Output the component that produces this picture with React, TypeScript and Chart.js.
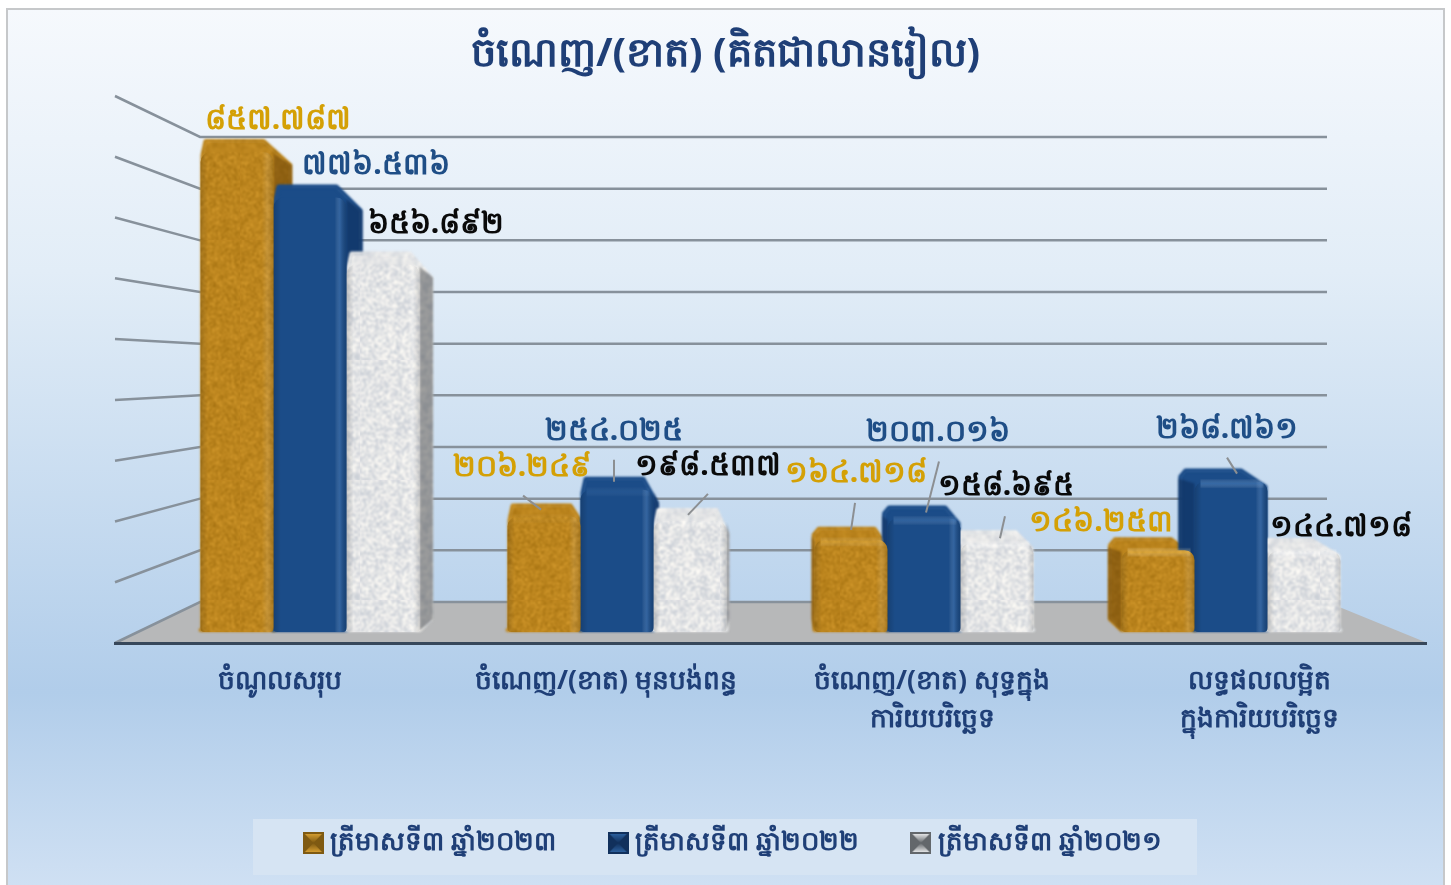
import React, { useEffect, useRef } from "react";
import { Chart, registerables } from "chart.js";

Chart.register(...registerables);

const categories: (string | string[])[] = [
  "ចំណូលសរុប",
  "ចំណេញ/(ខាត) មុនបង់ពន្ធ",
  ["ចំណេញ/(ខាត) សុទ្ធក្នុង", "ការិយបរិច្ឆេទ"],
  ["លទ្ធផលលម្អិត", "ក្នុងការិយបរិច្ឆេទ"],
];
const seriesNames = ["ត្រីមាសទី៣ ឆ្នាំ២០២៣", "ត្រីមាសទី៣ ឆ្នាំ២០២២", "ត្រីមាសទី៣ ឆ្នាំ២០២១"];
const q3y2023 = [857.787, 206.249, 164.718, 146.253];
const q3y2022 = [776.536, 254.025, 203.016, 268.761];
const q3y2021 = [656.892, 198.537, 158.695, 144.718];
const labels2023 = ["៨៥៧.៧៨៧", "២០៦.២៤៩", "១៦៤.៧១៨", "១៤៦.២៥៣"];
const labels2022 = ["៧៧៦.៥៣៦", "២៥៤.០២៥", "២០៣.០១៦", "២៦៨.៧៦១"];
const labels2021 = ["៦៥៦.៨៩២", "១៩៨.៥៣៧", "១៥៨.៦៩៥", "១៤៤.៧១៨"];
const titleText = "ចំណេញ/(ខាត) (គិតជាលានរៀល)";

const FONT = '"Noto Sans","Noto Sans CJK SC","DejaVu Sans",sans-serif';
const NAVY = "#1f3f77";
const valueLabels = [labels2023, labels2022, labels2021];
const labelColors = ["#d4a005", "#1f4e86", "#0a0a0a"];
const labelOffsets = [
  [[41, -32], [-22, -49], [5, -66], [-57, -28]],
  [[66, -32], [-3, -58], [14, -86], [-4, -52]],
  [[53, -40], [18, -54], [9, -57], [37, -24]],
];
const leaders: (number[] | null)[][] = [
  [null, [-21, -21, -3, -7], [4, -37, 0, -10], null],
  [null, [-3, -30, -3, -8], [15, -57, 2, -6], [-4, -24, 6, -8]],
  [null, [18, -27, -2, -6], [8, -27, 3, -5], null],
];
const tickShift = [-30, -11, 8, 28];
const sideShade = ["rgba(70,40,0,0.38)", "rgba(0,15,50,0.3)", "rgba(40,42,45,0.42)"];
const hiliteColors = ["rgba(255,205,90,0.4)", "rgba(110,165,225,0.32)", "rgba(255,255,255,0.4)"];
const swatchTones = [
  ["#7f5a12", "#d39c30"],
  ["#11305c", "#2c5f9c"],
  ["#63676b", "#e2e3e4"],
];

function hash(n: number) {
  const x = Math.sin(n * 127.1) * 43758.5453;
  return x - Math.floor(x);
}

function speckle(base: number[], amp: number, cell: number, soft: string): CanvasPattern | string {
  const c = document.createElement("canvas");
  c.width = c.height = 120;
  const g = c.getContext("2d")!;
  const raw = document.createElement("canvas");
  raw.width = raw.height = 120;
  const r = raw.getContext("2d")!;
  for (let y = 0; y < 120; y += cell) {
    for (let x = 0; x < 120; x += cell) {
      const d = (hash(x * 97 + y * 13 + 1) - 0.5) * amp;
      r.fillStyle = `rgb(${base[0] + d},${base[1] + d * 0.85},${base[2] + d * 0.6})`;
      r.fillRect(x, y, cell, cell);
    }
  }
  g.fillStyle = `rgb(${base[0]},${base[1]},${base[2]})`;
  g.fillRect(0, 0, 120, 120);
  g.filter = soft;
  g.drawImage(raw, 0, 0);
  return g.createPattern(c, "repeat") || "#888";
}

// A small bevelled tile for the legend: dark rim, bright centre.
function swatchTile(edge: string, mid: string) {
  const c = document.createElement("canvas");
  c.width = 21;
  c.height = 22;
  const g = c.getContext("2d")!;
  g.fillStyle = edge;
  g.fillRect(0, 0, 21, 22);
  const v = g.createLinearGradient(0, 2, 0, 20);
  v.addColorStop(0, mid);
  v.addColorStop(0.5, edge);
  v.addColorStop(1, mid);
  g.fillStyle = v;
  g.beginPath();
  g.moveTo(2, 2);
  g.lineTo(19, 2);
  g.lineTo(10.5, 11);
  g.lineTo(19, 20);
  g.lineTo(2, 20);
  g.lineTo(10.5, 11);
  g.closePath();
  g.fill();
  return c;
}

function depth(bar: any) {
  return (770 - bar.x) * 0.035;
}

const scenePlugin = {
  id: "scene",
  beforeDraw(chart: any) {
    const { ctx, width, height } = chart;
    const sy = chart.scales.y;
    ctx.save();
    ctx.fillStyle = "#ffffff";
    ctx.fillRect(0, 0, width, height);
    const bg = ctx.createLinearGradient(0, 8, 0, height);
    bg.addColorStop(0, "#f6f9fd");
    bg.addColorStop(0.3, "#e2edf7");
    bg.addColorStop(0.78, "#b1cdea");
    bg.addColorStop(1, "#cfe0f3");
    ctx.fillStyle = bg;
    ctx.fillRect(7, 9, 1437, height - 9);
    ctx.strokeStyle = "#c6c8ca";
    ctx.lineWidth = 2;
    ctx.beginPath();
    ctx.moveTo(7, height);
    ctx.lineTo(7, 9);
    ctx.lineTo(1444, 9);
    ctx.lineTo(1444, height);
    ctx.stroke();

    ctx.fillStyle = "#d6e4f3";
    ctx.fillRect(253, 819, 944, 56);

    // floor
    ctx.fillStyle = "#b7b8b9";
    ctx.beginPath();
    ctx.moveTo(116, 642);
    ctx.lineTo(200, 602);
    ctx.lineTo(1327, 602);
    ctx.lineTo(1425, 642);
    ctx.closePath();
    ctx.fill();

    // perspective grid, one line for each y tick
    ctx.strokeStyle = "#87919b";
    ctx.lineWidth = 2.5;
    for (const t of sy.ticks) {
      const share = t.value / sy.max;
      const backY = 602 - share * 465;
      const frontY = 643 - share * 547;
      ctx.beginPath();
      ctx.moveTo(115, frontY);
      ctx.lineTo(200, backY);
      ctx.lineTo(1327, backY);
      ctx.stroke();
    }
    ctx.strokeStyle = "#37475a";
    ctx.lineWidth = 3;
    ctx.beginPath();
    ctx.moveTo(114, 643.5);
    ctx.lineTo(1427, 643.5);
    ctx.stroke();
    ctx.restore();

    const xs = chart.scales.x;
    if (!xs.__shifted) {
      xs.__shifted = true;
      const orig = xs._computeLabelItems.bind(xs);
      xs._computeLabelItems = (a: any) =>
        orig(a).map((it: any, i: number) => ({
          ...it,
          options: {
            ...it.options,
            translation: [it.options.translation[0] + tickShift[i], it.options.translation[1]],
          },
        }));
      xs._labelItems = null;
    }
  },
  beforeDatasetsDraw(chart: any) {
    const { ctx } = chart;
    ctx.save();
    ctx.lineJoin = "round";
    ctx.filter = "blur(0.8px)";
    chart.data.datasets.forEach((ds: any, di: number) => {
      chart.getDatasetMeta(di).data.forEach((bar: any) => {
        const l = bar.x - bar.width / 2;
        const r = bar.x + bar.width / 2;
        const dx = depth(bar);
        const up = 13;
        const right = r + Math.max(dx, 0);
        const left = l + Math.min(dx, 0);
        const topL = l + (dx < 0 ? dx + 7 : 5);
        const topR = r - 10 + Math.min(dx, 0);
        const shoulderR = bar.y + (dx > 0 ? up : 5);
        const shoulderL = bar.y + (dx < 0 ? -5 : 3);

        // silhouette: cap and side faces behind the library's front face
        ctx.fillStyle = ctx.strokeStyle = ds.backgroundColor;
        ctx.lineWidth = 4;
        ctx.beginPath();
        ctx.moveTo(left + 2, bar.base - (dx < 0 ? up : 2));
        ctx.lineTo(left + 2, shoulderL);
        ctx.lineTo(topL, bar.y - up + 2);
        ctx.lineTo(topR, bar.y - up + 2);
        ctx.lineTo(right - 2, shoulderR);
        ctx.lineTo(right - 2, bar.base - (dx > 0 ? up : 2));
        ctx.lineTo(r, bar.base - 2);
        ctx.lineTo(l, bar.base - 2);
        ctx.closePath();
        ctx.fill();
        ctx.stroke();

        ctx.fillStyle = sideShade[di];
        ctx.beginPath();
        if (dx > 0) {
          ctx.moveTo(r, bar.y + 2);
          ctx.lineTo(right, shoulderR);
          ctx.lineTo(right, bar.base - up);
          ctx.lineTo(r, bar.base - 1);
        } else {
          ctx.moveTo(l, bar.y + 2);
          ctx.lineTo(left, shoulderL + 2);
          ctx.lineTo(left, bar.base - up);
          ctx.lineTo(l, bar.base - 1);
        }
        ctx.closePath();
        ctx.fill();
      });
    });
    ctx.restore();
  },
  afterDatasetsDraw(chart: any) {
    const { ctx } = chart;
    ctx.save();
    chart.data.datasets.forEach((_: any, di: number) => {
      chart.getDatasetMeta(di).data.forEach((bar: any, i: number) => {
        const l = bar.x - bar.width / 2;
        const g = ctx.createLinearGradient(l, 0, l + bar.width, 0);
        g.addColorStop(0, "rgba(0,0,0,0.16)");
        g.addColorStop(0.1, "rgba(0,0,0,0)");
        g.addColorStop(0.84, "rgba(255,255,255,0)");
        g.addColorStop(0.91, di === 1 ? "rgba(120,170,230,0.25)" : "rgba(255,255,255,0.1)");
        g.addColorStop(1, "rgba(0,0,0,0.14)");
        ctx.fillStyle = g;
        ctx.beginPath();
        ctx.roundRect(l, bar.y, bar.width, bar.base - bar.y, [10, 10, 4, 4]);
        ctx.fill();

        // the front-top highlight only shows on bars seen from the side
        const h = ctx.createLinearGradient(0, bar.y - 3, 0, bar.y + 7);
        h.addColorStop(0, "rgba(255,255,255,0)");
        h.addColorStop(0.5, hiliteColors[di]);
        h.addColorStop(1, "rgba(255,255,255,0)");
        ctx.globalAlpha = Math.min(1, Math.max(0, (bar.x - 400) / 700));
        ctx.fillStyle = h;
        ctx.fillRect(l + 6, bar.y - 3, bar.width - 10, 10);
        ctx.globalAlpha = 1;

        const lead = leaders[di][i];
        if (lead) {
          ctx.strokeStyle = "#8c8f92";
          ctx.lineWidth = 2;
          ctx.beginPath();
          ctx.moveTo(bar.x + lead[0], bar.y + lead[1]);
          ctx.lineTo(bar.x + lead[2], bar.y + lead[3]);
          ctx.stroke();
        }
        const off = labelOffsets[di][i];
        ctx.font = `700 30px ${FONT}`;
        ctx.textAlign = "center";
        ctx.textBaseline = "middle";
        ctx.fillStyle = labelColors[di];
        ctx.fillText(valueLabels[di][i], bar.x + off[0], bar.y + off[1]);
      });
    });
    ctx.restore();
  },
  afterLayout(chart: any) {
    // the title and legend centre on the page, not on the offset plot area
    chart.titleBlock.left -= 45;
    chart.titleBlock.right -= 45;
    chart.legend.left -= 35;
    chart.legend.right -= 35;
    chart.legend.top -= 19;
    chart.legend.bottom -= 19;
  },
};

export default function App() {
  const ref = useRef<HTMLCanvasElement | null>(null);
  useEffect(() => {
    document.body.style.margin = "0";
    const canvas = ref.current!;
    const fills = [
      speckle([188, 133, 30], 70, 1, "blur(0.9px)"),
      "#1b4c88",
      speckle([228, 229, 230], 60, 2, "blur(1px)"),
    ];
    const swatches = swatchTones.map(([edge, mid]) => swatchTile(edge, mid));
    const chart = new Chart(canvas, {
      type: "bar",
      data: {
        labels: categories as any,
        datasets: [q3y2023, q3y2022, q3y2021].map((values, i) => ({
          label: seriesNames[i],
          data: values,
          backgroundColor: fills[i] as any,
          borderWidth: 0,
          borderSkipped: false,
          borderRadius: { topLeft: 10, topRight: 10, bottomLeft: 4, bottomRight: 4 },
          categoryPercentage: 0.713,
          barPercentage: 1,
        })),
      },
      plugins: [scenePlugin as any],
      options: {
        animation: false,
        responsive: false,
        layout: { padding: { left: 156.5, right: 66.5, top: 0, bottom: 0 } },
        scales: {
          x: {
            grid: { display: false },
            border: { display: false },
            afterFit: (s: any) => {
              s.height = 159;
            },
            ticks: {
              color: NAVY,
              padding: 22,
              maxRotation: 0,
              autoSkip: false,
              font: { family: FONT, size: 26.5, weight: "700", lineHeight: 1.44 },
            },
          },
          y: {
            display: false,
            min: 0,
            max: 900,
            ticks: { stepSize: 100 },
          },
        },
        plugins: {
          tooltip: { enabled: false },
          title: {
            display: true,
            text: titleText,
            color: NAVY,
            font: { family: FONT, size: 40, weight: "700", lineHeight: 1.2 },
            padding: { top: 31, bottom: 49.4 },
          },
          legend: {
            position: "bottom",
            labels: {
              usePointStyle: true,
              pointStyleWidth: 8,
              boxHeight: 20,
              padding: 58,
              color: NAVY,
              font: { family: FONT, size: 26, weight: "700" },
              generateLabels: (c: any) =>
                c.data.datasets.map((d: any, i: number) => ({
                  text: d.label,
                  pointStyle: swatches[i],
                  fillStyle: "transparent",
                  strokeStyle: "transparent",
                  lineWidth: 0,
                  datasetIndex: i,
                  fontColor: NAVY,
                })),
            },
          },
        },
      },
    });
    return () => chart.destroy();
  }, []);
  return (
    <div style={{ width: 1451, height: 885 }}>
      <canvas ref={ref} width={1451} height={885} style={{ display: "block" }} />
    </div>
  );
}
